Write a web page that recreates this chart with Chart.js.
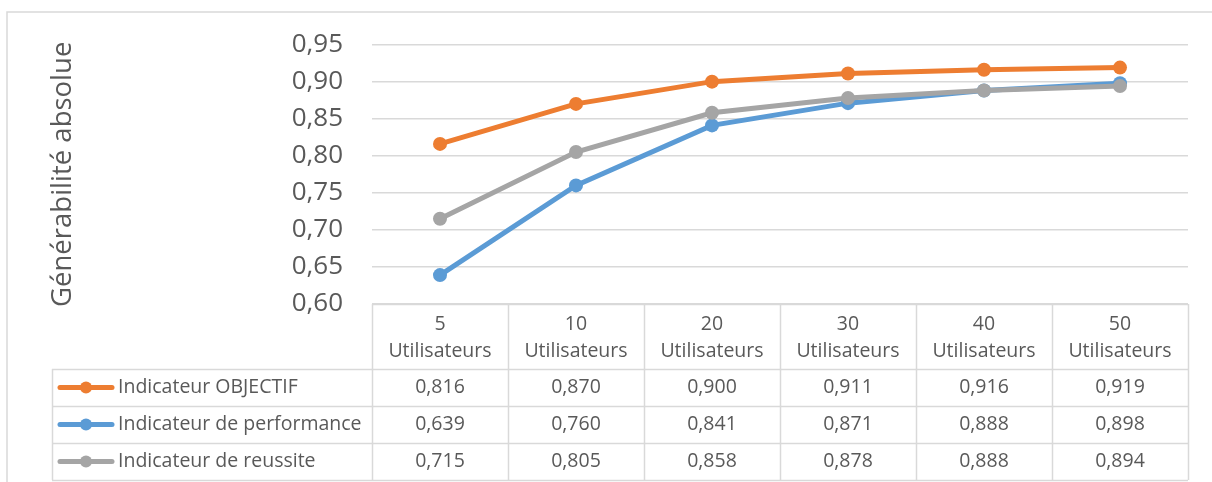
<!DOCTYPE html>
<html>
<head>
<meta charset="utf-8">
<script src="https://cdn.jsdelivr.net/npm/chart.js@4.4.0/dist/chart.umd.min.js"></script>
<style>
  html, body { margin: 0; padding: 0; background: #ffffff; }
  #wrap { width: 1212px; height: 482px; position: relative; }
</style>
</head>
<body>
<div id="wrap"><canvas id="c" width="1212" height="482"></canvas></div>
<script>
const categories = [["5", "Utilisateurs"], ["10", "Utilisateurs"], ["20", "Utilisateurs"], ["30", "Utilisateurs"], ["40", "Utilisateurs"], ["50", "Utilisateurs"]];
const seriesNames = ["Indicateur OBJECTIF", "Indicateur de performance", "Indicateur de reussite"];
const objectifValues = [0.816, 0.870, 0.900, 0.911, 0.916, 0.919];
const performanceValues = [0.639, 0.760, 0.841, 0.871, 0.888, 0.898];
const reussiteValues = [0.715, 0.805, 0.858, 0.878, 0.888, 0.894];
const yTicks = [0.60, 0.65, 0.70, 0.75, 0.80, 0.85, 0.90, 0.95];
const yTitle = "Générabilité absolue";

const colors = ["#ED7D31", "#5B9BD5", "#A5A5A5"];
const textColor = "#595959";
const gridColor = "#D9D9D9";
const FONT = "'Open Sans', 'DejaVu Sans', sans-serif";

const fmt = v => v.toFixed(3).replace('.', ',');

const seriesValues = [objectifValues, performanceValues, reussiteValues];

const tablePlugin = {
  id: 'dataTable',
  beforeDraw(chart) {
    const ctx = chart.ctx;
    ctx.save();
    ctx.strokeStyle = gridColor;
    ctx.lineWidth = 1.5;
    ctx.strokeRect(7, 12, 1400, 800);
    ctx.restore();
  },
  afterDraw(chart) {
    const ctx = chart.ctx;
    const x = chart.scales.x;
    const area = chart.chartArea;
    const n = categories.length;
    const colW = (x.right - x.left) / n;
    const top = area.bottom;
    const headerH = 65;
    const rowH = 37;
    const legendLeft = 52;
    const rowsTop = top + headerH;
    const bottom = rowsTop + rowH * seriesNames.length;

    ctx.save();
    ctx.strokeStyle = gridColor;
    ctx.lineWidth = 1.5;
    ctx.beginPath();
    ctx.moveTo(x.left, top + 0.5); ctx.lineTo(x.right, top + 0.5);
    for (let r = 0; r <= seriesNames.length; r++) {
      const yy = Math.round(rowsTop + r * rowH) + 0.5;
      ctx.moveTo(legendLeft, yy); ctx.lineTo(x.right, yy);
    }
    for (let i = 0; i <= n; i++) {
      const xx = Math.round(x.left + i * colW) + 0.5;
      ctx.moveTo(xx, top); ctx.lineTo(xx, bottom);
    }
    ctx.moveTo(legendLeft + 0.5, rowsTop); ctx.lineTo(legendLeft + 0.5, bottom);
    ctx.stroke();

    ctx.fillStyle = textColor;
    ctx.font = "19.5px " + FONT;
    ctx.textAlign = 'center';
    ctx.textBaseline = 'middle';
    categories.forEach((lab, i) => {
      const cx = x.getPixelForValue(i);
      ctx.fillText(lab[0], cx, top + 20);
      ctx.fillText(lab[1], cx, top + 47);
    });

    seriesNames.forEach((name, r) => {
      const cy = rowsTop + r * rowH + rowH / 2;
      ctx.strokeStyle = colors[r];
      ctx.lineWidth = 5;
      ctx.lineCap = 'round';
      ctx.beginPath();
      ctx.moveTo(60, cy); ctx.lineTo(112, cy);
      ctx.stroke();
      ctx.fillStyle = colors[r];
      ctx.beginPath();
      ctx.arc(86, cy, 6, 0, Math.PI * 2);
      ctx.fill();
      ctx.fillStyle = textColor;
      ctx.textAlign = 'left';
      ctx.fillText(name, 118, cy);
      ctx.textAlign = 'center';
      seriesValues[r].forEach((v, i) => {
        ctx.fillText(fmt(v), x.getPixelForValue(i), cy);
      });
    });
    ctx.restore();
  }
};

const datasets = seriesNames.map((name, i) => ({
  label: name,
  data: seriesValues[i],
  borderColor: colors[i],
  backgroundColor: colors[i],
  borderWidth: 5,
  pointRadius: 7,
  pointHoverRadius: 7,
  pointBorderWidth: 0,
  tension: 0,
  order: 3 - i
}));

new Chart(document.getElementById('c'), {
  type: 'line',
  data: { labels: categories.map(c => c.join(' ')), datasets },
  options: {
    responsive: false,
    animation: false,
    events: [],
    layout: { padding: { left: 0, top: 43, right: 24, bottom: 178 } },
    plugins: { legend: { display: false }, tooltip: { enabled: false } },
    scales: {
      x: {
        type: 'category',
        offset: true,
        display: false
      },
      y: {
        min: 0.60,
        max: 0.95,
        afterFit(scale) { scale.width = 372; },
        afterBuildTicks(scale) { scale.ticks = yTicks.map(v => ({ value: v })); },
        border: { display: false },
        grid: { color: gridColor, lineWidth: 1.5, drawTicks: false },
        ticks: {
          padding: 29,
          color: textColor,
          font: { family: FONT, size: 26 },
          callback: v => v.toFixed(2).replace('.', ',')
        },
        title: {
          display: true,
          text: yTitle,
          color: textColor,
          font: { family: FONT, size: 27.5 },
          padding: { top: 47, bottom: 0 }
        }
      }
    }
  },
  plugins: [tablePlugin]
});
</script>
</body>
</html>
